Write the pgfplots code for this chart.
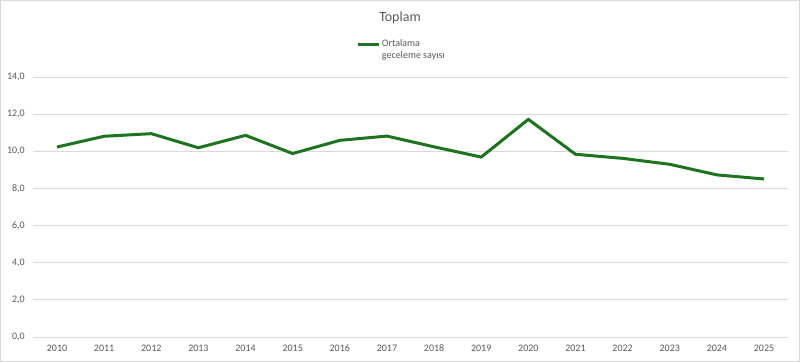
\documentclass[border=0pt]{standalone}
\usepackage{pgfplots}
\pgfplotsset{compat=1.18}
\usepackage{fontspec}
\setmainfont{Carlito}
\definecolor{txt}{HTML}{595959}
\definecolor{grd}{HTML}{D9D9D9}
\definecolor{lin}{HTML}{1E7321}
\begin{document}
\begin{tikzpicture}
\begin{axis}[
  scale only axis,
  width=565.65pt, height=195pt,
  xmin=2009.5, xmax=2025.5,
  ymin=0, ymax=14,
  ytick={0,2,...,14},
  xtick={2010,2011,...,2025},
  axis line style={draw=none},
  major tick length=0pt,
  ymajorgrids, grid style={grd, line width=0.75pt},
  tick label style={font=\fontsize{7.5}{9}\selectfont, text=txt},
  /pgf/number format/assume math mode=true,
  yticklabel style={/pgf/number format/.cd, fixed, fixed zerofill, precision=1, use comma, assume math mode=true},
  xticklabel style={/pgf/number format/.cd, 1000 sep={}, assume math mode=true, /tikz/.cd, text height=5.5pt, text depth=0pt},
  yticklabel shift=3pt,
  xticklabel shift=2pt,
  title={Toplam},
  title style={at={(0.5,1)}, anchor=center, yshift=38.25pt, xshift=-7.9pt, font=\fontsize{10.5}{12}\selectfont, text=txt},
  legend style={at={(0.4277,1.15)}, anchor=north west, draw=none, fill=none, inner sep=0pt,
    nodes={font=\fontsize{7.5}{9}\selectfont, text=txt, align=left, inner sep=1pt}},
  legend image code/.code={\draw[line width=2.25pt, lin] (0pt,4.5pt) -- (16pt,4.5pt);},
]
\addplot[lin, line width=2.25pt, mark=none] coordinates {
(2010,10.23) (2011,10.81) (2012,10.95) (2013,10.19) (2014,10.86) (2015,9.88)
(2016,10.59) (2017,10.82) (2018,10.24) (2019,9.69) (2020,11.72) (2021,9.84)
(2022,9.62) (2023,9.30) (2024,8.73) (2025,8.51)};
\addlegendentry{Ortalama\\geceleme sayısı}
\end{axis}
\draw[grd, line width=0.75pt] ([xshift=-24.7pt,yshift=-18.4pt]current axis.south west) rectangle ([xshift=8.9pt,yshift=57.4pt]current axis.north east);
\path[use as bounding box] ([xshift=-25.05pt,yshift=-18.75pt]current axis.south west) rectangle ([xshift=9.3pt,yshift=57.75pt]current axis.north east);
\end{tikzpicture}
\end{document}
